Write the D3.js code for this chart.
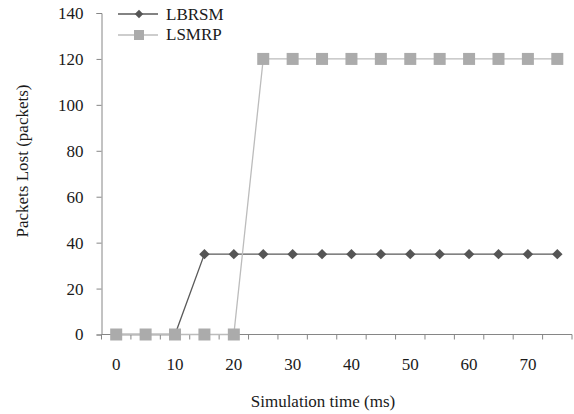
<!DOCTYPE html>
<html><head><meta charset="utf-8">
<script src="https://cdn.jsdelivr.net/npm/d3@7"></script>
<style>body{margin:0;background:#fff}svg{display:block}text{font-family:"Liberation Serif","Times New Roman",serif;fill:#1a1a1a}</style>
</head><body><svg id="c" width="574" height="414"></svg>
<script>
const categories = [0,5,10,15,20,25,30,35,40,45,50,55,60,65,70,75];
const lbrsm = [0,0,0,35,35,35,35,35,35,35,35,35,35,35,35,35];
const lsmrp = [0,0,0,0,0,120,120,120,120,120,120,120,120,120,120,120];
const yTicks = [0,20,40,60,80,100,120,140];
const xLabels = [0,10,20,30,40,50,60,70];

(function(){
const svg = d3.select("#c");
const pL = 101.5, pR = 572, pT = 13, pB = 334.5;
const fs = "17px";
const x = d3.scaleBand().domain(categories).range([pL, pR]).padding(0);
const y = d3.scaleLinear().domain([0,140]).range([pB, pT]);
const axisColor = "#868686";

// y axis
const ya = svg.append("g").attr("transform", `translate(${pL},0)`)
  .call(d3.axisLeft(y).tickValues(yTicks).tickSize(5).tickPadding(13));
ya.select(".domain").attr("stroke", axisColor);
ya.selectAll(".tick line").attr("stroke", axisColor);
ya.selectAll(".tick text").style("font-size",fs).style("font-family","Liberation Serif").attr("fill","#1a1a1a");

// x axis
const xa = svg.append("g").attr("transform", `translate(0,${pB})`);
xa.append("line").attr("x1", pL).attr("x2", pR).attr("stroke", axisColor);
const bounds = categories.map(c => x(c)).concat([x(categories[categories.length-1]) + x.bandwidth()]);
xa.selectAll("line.t").data(bounds).join("line").attr("class","t")
  .attr("x1", d=>d).attr("x2", d=>d).attr("y1",0).attr("y2",5).attr("stroke", axisColor);
xa.selectAll("text").data(xLabels).join("text")
  .attr("x", d => x(d) + x.bandwidth()/2).attr("y", 35)
  .attr("text-anchor","middle").style("font-size",fs).text(d=>d);

// titles
svg.append("text").attr("x", 323).attr("y", 407).attr("text-anchor","middle")
  .style("font-size",fs).text("Simulation time (ms)");
svg.append("text").attr("transform","translate(28,161) rotate(-90)").attr("text-anchor","middle")
  .style("font-size",fs).text("Packets Lost (packets)");

const cx = c => x(c) + x.bandwidth()/2;
const line = d3.line().x(d=>cx(d[0])).y(d=>y(d[1]));

// LBRSM (drawn first, underneath)
const dB = categories.map((c,i)=>[c, lbrsm[i]]);
svg.append("path").datum(dB).attr("d", line).attr("fill","none").attr("stroke","#5a5a5a").attr("stroke-width",1.3);
const diamond = d3.symbol().type(d3.symbolDiamond2).size(70);
svg.selectAll("path.d").data(dB).join("path").attr("class","d")
  .attr("transform", d=>`translate(${cx(d[0])},${y(d[1])})`).attr("d", diamond).attr("fill","#555");

// LSMRP
const dS = categories.map((c,i)=>[c, lsmrp[i]]);
svg.append("path").datum(dS).attr("d", line).attr("fill","none").attr("stroke","#bcbcbc").attr("stroke-width",1.3);
const sq = 12;
svg.selectAll("rect.s").data(dS).join("rect").attr("class","s")
  .attr("x", d=>cx(d[0])-sq/2).attr("y", d=>y(d[1])-sq/2).attr("width",sq).attr("height",sq).attr("fill","#ababab");

// legend
const lg = svg.append("g");
lg.append("line").attr("x1",118).attr("x2",158).attr("y1",14).attr("y2",14).attr("stroke","#5a5a5a").attr("stroke-width",1.3);
lg.append("path").attr("transform","translate(139,14)").attr("d", d3.symbol().type(d3.symbolDiamond2).size(45)).attr("fill","#555");
lg.append("text").attr("x",166).attr("y",20).style("font-size",fs).text("LBRSM");
lg.append("line").attr("x1",118).attr("x2",158).attr("y1",35).attr("y2",35).attr("stroke","#bcbcbc").attr("stroke-width",1.3);
lg.append("rect").attr("x",134).attr("y",30).attr("width",10).attr("height",10).attr("fill","#ababab");
lg.append("text").attr("x",166).attr("y",40).style("font-size",fs).text("LSMRP");
})();
</script></body></html>
